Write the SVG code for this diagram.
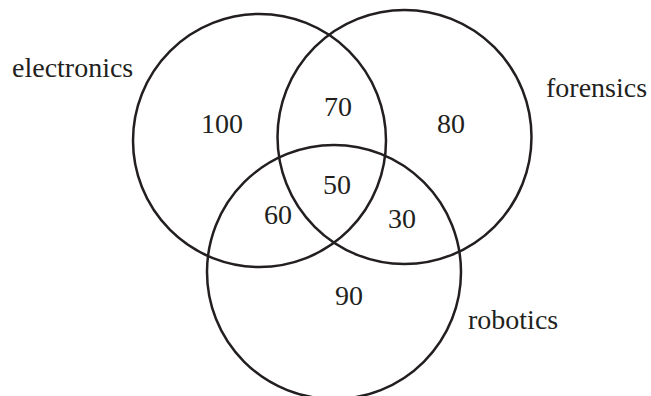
<svg xmlns="http://www.w3.org/2000/svg" width="651" height="396" viewBox="0 0 651 396">
<style>
.c{fill:none;stroke:#231f20;stroke-width:2.5}
.t{font-family:"Liberation Serif","Times New Roman",serif;font-size:28px;fill:#231f20}
.m{text-anchor:middle}
</style>
<rect width="651" height="396" fill="#fff"/>
<g id="electronics">
<circle class="c" cx="259.5" cy="140.5" r="126.5"/>
<text class="t" x="12" y="77">electronics</text>
</g>
<g id="forensics">
<circle class="c" cx="404.5" cy="137" r="127"/>
<text class="t" x="546" y="97">forensics</text>
</g>
<g id="robotics">
<circle class="c" cx="334" cy="272" r="127"/>
<text class="t" x="468" y="329">robotics</text>
</g>
<g id="regions">
<text class="t m" x="222" y="133">100</text>
<text class="t m" x="338" y="116">70</text>
<text class="t m" x="451" y="133">80</text>
<text class="t m" x="337" y="194">50</text>
<text class="t m" x="278" y="224">60</text>
<text class="t m" x="402" y="228">30</text>
<text class="t m" x="349" y="305">90</text>
</g>
</svg>
